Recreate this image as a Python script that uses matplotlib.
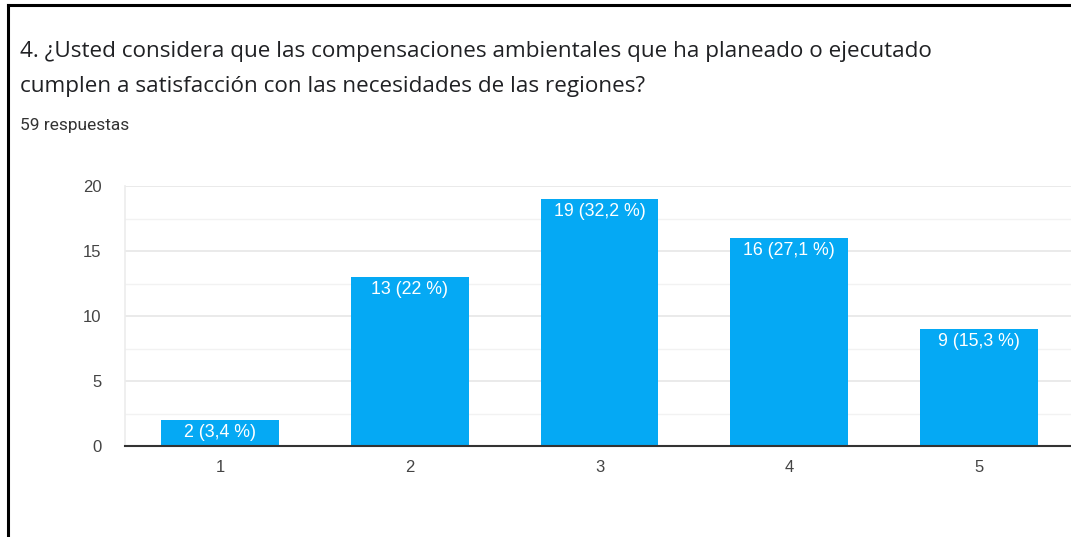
import matplotlib
matplotlib.use("Agg")
import matplotlib.pyplot as plt
from matplotlib.lines import Line2D
from matplotlib.ticker import MultipleLocator

categories = ["1", "2", "3", "4", "5"]
counts = [2, 13, 19, 16, 9]
labels = ["2 (3,4 %)", "13 (22 %)", "19 (32,2 %)", "16 (27,1 %)", "9 (15,3 %)"]
title_lines = ["4. ¿Usted considera que las compensaciones ambientales que ha planeado o ejecutado",
               "cumplen a satisfacción con las necesidades de las regiones?"]
subtitle = "59 respuestas"

W, H = 1071, 537
plt.rcParams['font.family'] = ['Liberation Sans', 'DejaVu Sans']
fig = plt.figure(figsize=(W / 100, H / 100), dpi=100)

# frame
fig.add_artist(Line2D([8 / W, 8 / W], [0, 1 - 5 / H], color='black', lw=2.2, transform=fig.transFigure))
fig.add_artist(Line2D([8 / W, 1], [1 - 5 / H, 1 - 5 / H], color='black', lw=2.2, transform=fig.transFigure))

title_font = ['Open Sans', 'DejaVu Sans']
fig.text(20 / W, 1 - 57 / H, title_lines[0], fontsize=16.2, family=title_font, color='#202124', va='baseline', ha='left')
fig.text(20 / W, 1 - 92 / H, title_lines[1], fontsize=16.2, family=title_font, color='#202124', va='baseline', ha='left')
fig.text(20 / W, 1 - 130 / H, subtitle, fontsize=12.5, family=['Roboto', 'DejaVu Sans'], color='#333333', va='baseline', ha='left')

left, right = 125, 1074
bottom, top = 446, 186
ax = fig.add_axes([left / W, 1 - bottom / H, (right - left) / W, (bottom - top) / H])
x = list(range(1, len(categories) + 1))
ax.bar(x, counts, width=0.62, color='#05a9f4', zorder=3)
ax.set_xlim(0.5, 5.5)
ax.set_ylim(0, 20)
ax.set_xticks(x)
ax.set_xticklabels(categories)
ax.yaxis.set_major_locator(MultipleLocator(5))
ax.yaxis.set_minor_locator(MultipleLocator(2.5))
ax.grid(axis='y', which='major', color='#e6e6e6', lw=1.2, zorder=0)
ax.grid(axis='y', which='minor', color='#f2f2f2', lw=1.0, zorder=0)
for s in ['top', 'right']:
    ax.spines[s].set_visible(False)
ax.spines['left'].set_color('#ececec')
ax.spines['left'].set_linewidth(1.2)
ax.spines['bottom'].set_color('#333333')
ax.spines['bottom'].set_linewidth(1.5)
ax.spines['bottom'].set_zorder(4)
ax.tick_params(axis='both', which='both', length=0, labelsize=12, colors='#444444')
ax.tick_params(axis='y', pad=17)
ax.tick_params(axis='x', pad=10)
for xi, c, lab in zip(x, counts, labels):
    ax.annotate(lab, (xi, c), xytext=(0, -9), textcoords='offset points',
                ha='center', va='center', color='white', fontsize=12.8, zorder=5)

fig.savefig('out.png', dpi=100)
